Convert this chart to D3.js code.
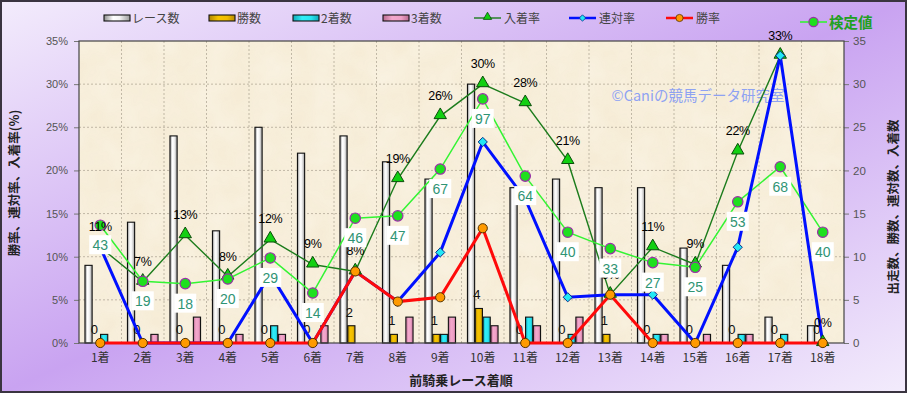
<!DOCTYPE html>
<html><head><meta charset="utf-8">
<script src="https://cdn.jsdelivr.net/npm/d3@7"></script>
<style>html,body{margin:0;padding:0;background:#fff;} svg{display:block;}</style>
</head><body>
<svg id="c" width="907" height="393"></svg>
<script>
// ---------- DATA ----------
const categories = ["1着","2着","3着","4着","5着","6着","7着","8着","9着","10着","11着","12着","13着","14着","15着","16着","17着","18着"];
const raceCounts   = [9,14,24,13,25,22,24,21,19,30,18,19,18,18,11,9,3,2];
const winCounts    = [0,0,0,0,0,0,2,1,1,4,0,0,1,0,0,0,0,0];
const secondCounts = [1,0,0,0,2,0,0,0,1,3,3,1,0,1,0,1,1,0];
const thirdCounts  = [0,1,3,1,1,2,0,3,3,2,2,3,0,1,1,1,0,0];
const placeRate    = [11.1,7.1,12.5,7.7,12.0,9.1,8.3,19.0,26.3,30.0,27.8,21.1,5.6,11.1,9.1,22.2,33.3,0];
const rentaiRate   = [11.1,0,0,0,8.0,0,8.3,4.8,10.5,23.3,16.7,5.3,5.6,5.6,0,11.1,33.3,0];
const winRate      = [0,0,0,0,0,0,8.3,4.8,5.3,13.3,0,0,5.6,0,0,0,0,0];
const kenteiValues = [43,19,18,20,29,14,46,47,67,97,64,40,33,27,25,53,68,40];
const placeLabels  = ["11%","7%","13%","8%","12%","9%","8%","19%","26%","30%","28%","21%","6%","11%","9%","22%","33%","0%"];
const leftTicks    = [0,5,10,15,20,25,30,35];
const rightTicks   = [0,5,10,15,20,25,30,35];
const barSeries    = ["レース数","勝数","2着数","3着数"];
const lineSeries   = ["入着率","連対率","勝率"];

// ---------- LAYOUT ----------
const W = 907, H = 393;
const P = {left:79, right:844, top:41, bottom:343};
const svg = d3.select("#c");
const defs = svg.append("defs");
const JP = "'Noto Sans CJK JP','Noto Sans',sans-serif";
const NUM = "'Liberation Sans','DejaVu Sans',sans-serif";

// background gradient
const bg = defs.append("linearGradient").attr("id","bg").attr("x1",0).attr("y1",0).attr("x2",1).attr("y2",1);
bg.append("stop").attr("offset","0%").attr("stop-color","#f3ecfc");
bg.append("stop").attr("offset","50%").attr("stop-color","#c9a3f1");
bg.append("stop").attr("offset","100%").attr("stop-color","#f3ecfc");
svg.append("rect").attr("x",0).attr("y",0).attr("width",W).attr("height",H).attr("fill","url(#bg)");

// bar gradients
function hgrad(id, stops){
  const g = defs.append("linearGradient").attr("id",id).attr("x1",0).attr("y1",0).attr("x2",1).attr("y2",0);
  stops.forEach(s=>g.append("stop").attr("offset",s[0]).attr("stop-color",s[1]));
}
hgrad("gRace",[["0%","#8c8c8c"],["35%","#ffffff"],["60%","#f4f4f4"],["100%","#9a9a9a"]]);
hgrad("gWin",[["0%","#b08600"],["35%","#f6c400"],["70%","#f0bc00"],["100%","#b88c00"]]);
hgrad("gSec",[["0%","#10a8b8"],["35%","#30eef8"],["70%","#28e4f0"],["100%","#10a8b8"]]);
hgrad("gThi",[["0%","#b86a90"],["35%","#f4a8cc"],["70%","#eea0c6"],["100%","#b86a90"]]);
const barFills = ["url(#gRace)","url(#gWin)","url(#gSec)","url(#gThi)"];

// parchment texture
const f = defs.append("filter").attr("id","parch").attr("x",0).attr("y",0).attr("width","100%").attr("height","100%");
f.append("feTurbulence").attr("type","fractalNoise").attr("baseFrequency","0.035").attr("numOctaves",3).attr("seed",4);
f.append("feColorMatrix").attr("type","matrix")
 .attr("values","0 0 0 0 0.99  0 0 0 0 0.97  0 0 0 0 0.90  0 0 0 0.55 -0.1");
svg.append("rect").attr("x",P.left).attr("y",P.top).attr("width",P.right-P.left).attr("height",P.bottom-P.top).attr("fill","#f6ecd6");
svg.append("rect").attr("x",P.left).attr("y",P.top).attr("width",P.right-P.left).attr("height",P.bottom-P.top).attr("filter","url(#parch)").attr("opacity",0.9);

// ---------- SCALES ----------
const x0 = d3.scaleBand().domain(categories).range([P.left,P.right]).paddingInner(0.28).paddingOuter(0.14);
const x1 = d3.scaleBand().domain(barSeries).range([0,x0.bandwidth()]).paddingInner(0.08);
const xc = d => x0(d) + x0.bandwidth()/2;
const yL = d3.scaleLinear().domain([0,35]).range([P.bottom,P.top]);
const yR = d3.scaleLinear().domain([0,35]).range([P.bottom,P.top]);
const yK = d3.scaleLinear().domain([0,100]).range([yL(2.0),yL(29.1)]);

// grid
const step = x0.step();
const grid = svg.append("g").attr("stroke","#b3aa98").attr("stroke-width",0.8).attr("stroke-dasharray","2,2");
leftTicks.slice(1,-1).forEach(t=>grid.append("line").attr("x1",P.left).attr("x2",P.right).attr("y1",yL(t)).attr("y2",yL(t)));
d3.range(1,categories.length).forEach(i=>grid.append("line").attr("x1",P.left+i*step).attr("x2",P.left+i*step).attr("y1",P.top).attr("y2",P.bottom));

// axes
const axL = svg.append("g").attr("transform",`translate(${P.left},0)`).call(d3.axisLeft(yL).tickValues(leftTicks).tickSize(5).tickPadding(6).tickFormat(d=>d+"%"));
const axR = svg.append("g").attr("transform",`translate(${P.right},0)`).call(d3.axisRight(yR).tickValues(rightTicks).tickSize(5).tickPadding(4));
const axB = svg.append("g").attr("transform",`translate(0,${P.bottom})`).call(d3.axisBottom(x0).tickSize(0).tickPadding(10));
[axL,axR,axB].forEach(a=>{a.select(".domain").remove(); a.selectAll("line").attr("stroke","#777");});
axL.selectAll("text").attr("font-family",NUM).attr("font-size",11).attr("fill","#555");
axR.selectAll("text").attr("font-family",NUM).attr("font-size",11.5).attr("fill","#555");
axB.selectAll("text").attr("font-family",JP).attr("font-size",12).attr("fill","#333");

// bars
const barData = [raceCounts,winCounts,secondCounts,thirdCounts];
const bars = svg.append("g");
categories.forEach((c,i)=>{
  barSeries.forEach((s,j)=>{
    const v = barData[j][i];
    if(v<=0) return;
    bars.append("rect").attr("x",x0(c)+x1(s)).attr("y",yR(v)).attr("width",x1.bandwidth()).attr("height",yR(0)-yR(v))
      .attr("fill",barFills[j]).attr("stroke","#111").attr("stroke-width",1.1);
  });
});

// plot frame
svg.append("rect").attr("x",P.left).attr("y",P.top).attr("width",P.right-P.left).attr("height",P.bottom-P.top)
  .attr("fill","none").attr("stroke","#444").attr("stroke-width",1.2);

// watermark
svg.append("text").attr("x",698).attr("y",101).attr("text-anchor","middle").attr("font-family",JP).attr("font-size",14.5)
  .attr("fill","#8ea2f2").text("©Caniの競馬データ研究室");

// win-count labels
const wl = svg.append("g").attr("font-family",NUM).attr("font-size",13).attr("fill","#111").attr("text-anchor","middle");
categories.forEach((c,i)=>{
  wl.append("text").attr("x",x0(c)+x1("勝数")+x1.bandwidth()/2 - 2).attr("y",yR(winCounts[i])-9).text(winCounts[i]);
});

const line = (arr, ys) => d3.line().x((d,i)=>xc(categories[i])).y(d=>ys(d))(arr);

// place rate (dark green)
svg.append("path").attr("d",line(placeRate,yL)).attr("fill","none").attr("stroke","#1c7c1c").attr("stroke-width",1.4);
// kentei (bright green)
svg.append("path").attr("d",line(kenteiValues,yK)).attr("fill","none").attr("stroke","#33f433").attr("stroke-width",1.5);
// rentai (blue)
svg.append("path").attr("d",line(rentaiRate,yL)).attr("fill","none").attr("stroke","#0010ff").attr("stroke-width",3);
// win rate (red)
svg.append("path").attr("d",line(winRate,yL)).attr("fill","none").attr("stroke","#ff0a0a").attr("stroke-width",3);

// markers
const tri = d3.symbol().type(d3.symbolTriangle).size(66);
placeRate.forEach((v,i)=>{
  svg.append("path").attr("d",tri()).attr("transform",`translate(${xc(categories[i])},${yL(v)-1})`)
    .attr("fill","#12d012").attr("stroke","#0b4d0b").attr("stroke-width",1);
});
kenteiValues.forEach((v,i)=>{
  svg.append("circle").attr("cx",xc(categories[i])).attr("cy",yK(v)).attr("r",5.2)
    .attr("fill","#1ee01e").attr("stroke","#9a30a8").attr("stroke-width",1.2);
});
rentaiRate.forEach((v,i)=>{
  svg.append("path").attr("d","M0,-4.6L4.6,0L0,4.6L-4.6,0Z").attr("transform",`translate(${xc(categories[i])},${yL(v)})`)
    .attr("fill","#22e8f4").attr("stroke","#0a2a8a").attr("stroke-width",1);
});
winRate.forEach((v,i)=>{
  svg.append("circle").attr("cx",xc(categories[i])).attr("cy",yL(v)).attr("r",4.6)
    .attr("fill","#ff9a00").attr("stroke","#553300").attr("stroke-width",1);
});

// place-rate labels
const pl = svg.append("g").attr("font-family",NUM).attr("font-size",12.5).attr("fill","#000")
  .attr("text-anchor","middle").attr("letter-spacing","-0.4");
placeRate.forEach((v,i)=>{
  pl.append("text").attr("x",xc(categories[i])).attr("y",yL(v)-16).text(placeLabels[i]);
});

// kentei labels
const kl = svg.append("g");
kenteiValues.forEach((v,i)=>{
  const cx = xc(categories[i]), cy = yK(v)+20;
  kl.append("rect").attr("x",cx-11).attr("y",cy-10).attr("width",22).attr("height",19).attr("fill","#ffffff");
  kl.append("text").attr("x",cx).attr("y",cy+5).attr("text-anchor","middle").attr("font-family",NUM).attr("font-size",14)
    .attr("fill","#2f9474").text(v);
});

// axis titles
svg.append("text").attr("transform","translate(19,183) rotate(-90)").attr("text-anchor","middle").attr("font-family",JP)
  .attr("font-size",12.5).attr("font-weight","bold").attr("fill","#222").text("勝率、連対率、入着率(%)");
svg.append("text").attr("transform","translate(898,207) rotate(-90)").attr("text-anchor","middle").attr("font-family",JP)
  .attr("font-size",12.5).attr("font-weight","bold").attr("fill","#222").text("出走数、勝数、連対数、入着数");
svg.append("text").attr("x",461).attr("y",385).attr("text-anchor","middle").attr("font-family",JP)
  .attr("font-size",13).attr("font-weight","bold").attr("fill","#222").text("前騎乗レース着順");

// legend
const lg = svg.append("g").attr("font-family",JP).attr("font-size",12).attr("fill","#444");
const barLegX = [104,209,293,383];
barSeries.forEach((s,j)=>{
  lg.append("rect").attr("x",barLegX[j]).attr("y",15).attr("width",26).attr("height",6).attr("fill",barFills[j]).attr("stroke","#111").attr("stroke-width",1.1);
  lg.append("text").attr("x",barLegX[j]+28).attr("y",22.5).text(s);
});
const lineLegX = [474,569,666];
const lineCols = ["#1c7c1c","#0010ff","#ff0a0a"];
lineSeries.forEach((s,j)=>{
  const x = lineLegX[j];
  lg.append("line").attr("x1",x).attr("x2",x+27).attr("y1",18).attr("y2",18).attr("stroke",lineCols[j]).attr("stroke-width",j===0?1.4:2.5);
  if(j===0) lg.append("path").attr("d",d3.symbol().type(d3.symbolTriangle).size(30)()).attr("transform",`translate(${x+13.5},17)`).attr("fill","#12d012").attr("stroke","#0b4d0b").attr("stroke-width",0.8);
  if(j===1) lg.append("path").attr("d","M0,-3.2L3.2,0L0,3.2L-3.2,0Z").attr("transform",`translate(${x+13.5},18)`).attr("fill","#22e8f4").attr("stroke","#0a2a8a").attr("stroke-width",0.8);
  if(j===2) lg.append("circle").attr("cx",x+13.5).attr("cy",18).attr("r",3.6).attr("fill","#ff9a00").attr("stroke","#553300").attr("stroke-width",0.8);
  lg.append("text").attr("x",x+30).attr("y",22.5).text(s);
});
lg.append("line").attr("x1",800).attr("x2",827).attr("y1",22).attr("y2",22).attr("stroke","#33f433").attr("stroke-width",1.6);
lg.append("circle").attr("cx",813.5).attr("cy",22).attr("r",4.6).attr("fill","#1ee01e").attr("stroke","#9a30a8").attr("stroke-width",1.2);
lg.append("text").attr("x",829).attr("y",28).attr("font-size",14.5).attr("font-weight","bold").attr("fill","#22a022").text("検定値");

// outer border
svg.append("rect").attr("x",1).attr("y",1).attr("width",W-2).attr("height",H-2).attr("fill","none").attr("stroke","#3a3440").attr("stroke-width",2);
</script>
</body></html>
